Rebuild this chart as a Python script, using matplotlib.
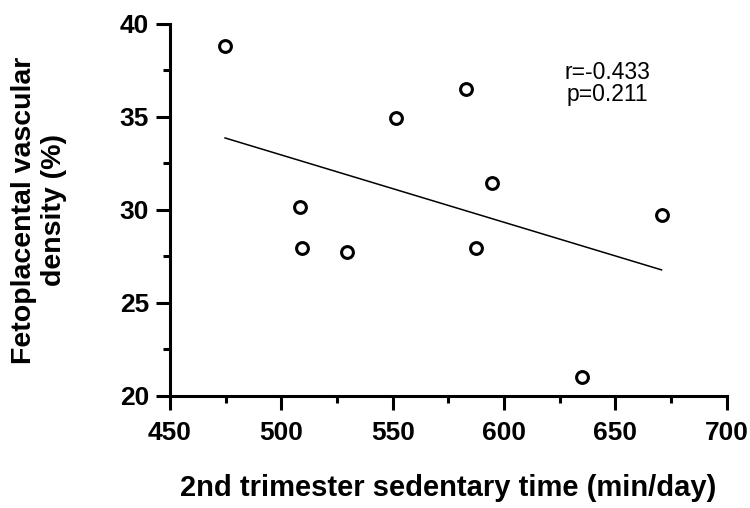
import matplotlib
matplotlib.use("Agg")
from matplotlib import pyplot as plt
from matplotlib.ticker import MultipleLocator
import numpy as np

plt.rcParams['font.family'] = ['Liberation Sans', 'DejaVu Sans']

# 2nd trimester sedentary time (min/day) vs fetoplacental vascular density (%)
sedentary = np.array([474.7, 508.3, 509.4, 529.6, 551.4, 582.7, 587.3, 594.7, 634.8, 670.7])
density = np.array([38.83, 30.18, 27.94, 27.73, 34.93, 36.49, 27.94, 31.47, 21.04, 29.73])
r_text = "r=-0.433"
p_text = "p=0.211"

fig = plt.figure(figsize=(7.5, 5.08), dpi=100)
ax = fig.add_axes([0.2267, 0.2205, 0.969 - 0.2267, 0.9528 - 0.2205])

ax.plot(sedentary, density, 'o', markerfacecolor='white', markeredgecolor='black',
        markersize=8.5, markeredgewidth=2.2, zorder=3, clip_on=False)

# linear regression line across data range
slope, intercept = np.polyfit(sedentary, density, 1)
xs = np.array([sedentary.min(), sedentary.max()])
ax.plot(xs, slope * xs + intercept, color='black', linewidth=1.1)

ax.text(646.6, 36.8, r_text + "\n" + p_text, ha='center', va='center',
        multialignment='center', linespacing=0.9, fontsize=16.5)

ax.set_xlim(450, 700)
ax.set_ylim(20, 40)
ax.xaxis.set_major_locator(MultipleLocator(50))
ax.xaxis.set_minor_locator(MultipleLocator(25))
ax.yaxis.set_major_locator(MultipleLocator(5))
ax.yaxis.set_minor_locator(MultipleLocator(2.5))

for side in ['top', 'right']:
    ax.spines[side].set_visible(False)
for side in ['left', 'bottom']:
    ax.spines[side].set_linewidth(2.2)

ax.tick_params(which='major', length=10, width=2.2, labelsize=19)
ax.tick_params(which='minor', length=5, width=2.2)
ax.tick_params(axis='x', which='major', pad=8)
ax.tick_params(axis='y', which='major', pad=5)
for lab in ax.get_xticklabels() + ax.get_yticklabels():
    lab.set_fontweight('bold')

ax.set_xlabel("2nd trimester sedentary time (min/day)", fontsize=21, fontweight='bold', labelpad=21)
ax.set_ylabel("Fetoplacental vascular\ndensity (%)", fontsize=20.5, fontweight='bold', labelpad=38)

fig.savefig("out.png", dpi=100)
